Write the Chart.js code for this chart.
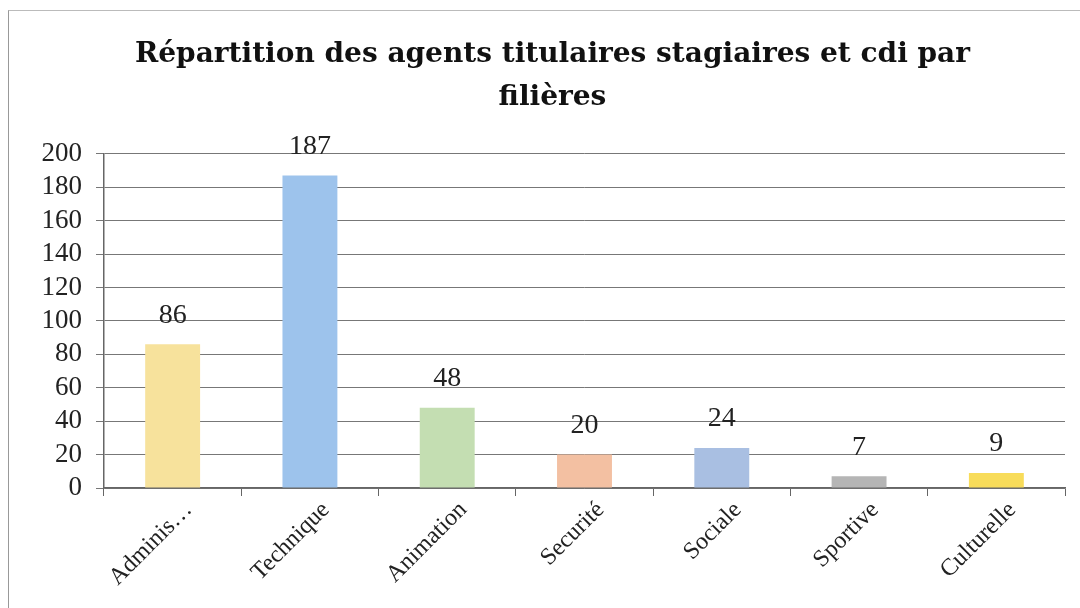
<!DOCTYPE html>
<html>
<head>
<meta charset="utf-8">
<script src="https://cdn.jsdelivr.net/npm/chart.js@4"></script>
<style>
  html, body { margin: 0; padding: 0; background: #fff; }
  #cadre { position: absolute; left: 8px; top: 10px; width: 1072px; height: 598px;
           border-left: 1px solid #999; border-top: 1px solid #bbb; }
  #wrap { position: absolute; left: 0; top: 0; width: 1080px; height: 608px; }
</style>
</head>
<body>
<div id="cadre"></div>
<div id="wrap"><canvas id="filieres" width="1080" height="608"></canvas></div>
<script>
// données
const filieres = ["Adminis…", "Technique", "Animation", "Securité", "Sociale", "Sportive", "Culturelle"];
const effectifs = [86, 187, 48, 20, 24, 7, 9];
const couleurs = ['#f7e29c', '#9dc3ec', '#c4deb2', '#f3c0a2', '#a9bfe2', '#b5b5b5', '#f8dc5a'];
const titre = ["Répartition des agents titulaires stagiaires et cdi par", "filières"];

const serif = "'Liberation Serif', serif";

// étiquettes de valeur au dessus des barres
const etiquettes = {
  id: 'etiquettes',
  afterDatasetsDraw(chart) {
    const ctx = chart.ctx;
    const meta = chart.getDatasetMeta(0);
    ctx.save();
    ctx.font = "28px " + serif;
    ctx.fillStyle = '#222';
    ctx.textAlign = 'center';
    ctx.textBaseline = 'middle';
    meta.data.forEach((bar, i) => {
      ctx.fillText(effectifs[i], bar.x, bar.y - 29);
    });
    ctx.restore();
  }
};

let context = document.querySelector("#filieres").getContext('2d');
new Chart(context, {
  type: 'bar',
  data: {
    labels: filieres,
    datasets: [{
      data: effectifs,
      backgroundColor: couleurs,
      categoryPercentage: 1,
      barPercentage: 0.4,
    }]
  },
  options: {
    responsive: false,
    animation: false,
    // padding gauche pour recentrer le titre, l'axe y garde sa place a x=104
    layout: { padding: { left: 40, right: 15, top: 0, bottom: 0 } },
    plugins: {
      legend: { display: false },
      tooltip: { enabled: false },
      title: {
        display: true,
        text: titre,
        color: '#111',
        font: { family: "'DejaVu Serif', serif", size: 28, weight: 'bold', lineHeight: 1.55 },
        padding: { top: 33, bottom: 34 }
      }
    },
    scales: {
      x: {
        afterFit: s => { s.height = 120; },
        grid: { display: true, drawOnChartArea: false, tickLength: 8, color: '#666' },
        border: { color: '#666', width: 1.5 },
        ticks: {
          color: '#222',
          font: { family: serif, size: 24 },
          minRotation: 45, maxRotation: 45,
          labelOffset: 16,
          padding: 0
        }
      },
      y: {
        min: 0, max: 200,
        afterFit: s => { s.width = 64; },
        grid: { color: '#777', tickLength: 8, lineWidth: 1 },
        border: { color: '#666', width: 1.5 },
        ticks: {
          stepSize: 20,
          autoSkip: false,
          color: '#222',
          font: { family: serif, size: 27 },
          padding: 14
        }
      }
    }
  },
  plugins: [etiquettes]
});
</script>
</body>
</html>
